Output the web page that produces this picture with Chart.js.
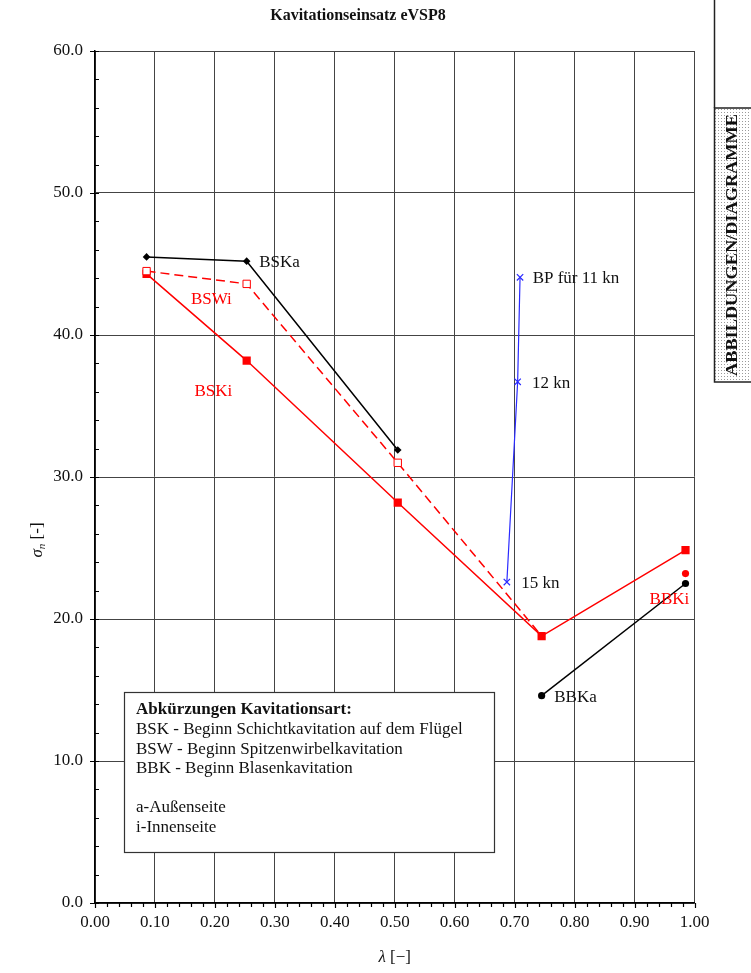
<!DOCTYPE html>
<html lang="de">
<head>
<meta charset="utf-8">
<title>Kavitationseinsatz eVSP8</title>
<script src="https://cdn.jsdelivr.net/npm/chart.js@4.4.1/dist/chart.umd.min.js"></script>
<style>
  html, body { margin: 0; padding: 0; background: #fff; }
  #wrap { width: 751px; height: 973px; }
</style>
</head>
<body>
<div id="wrap"><canvas id="c" width="751" height="973"></canvas></div>
<script>
// Kavitationseinsatz eVSP8: sigma_n over lambda

// BSKa - Beginn Schichtkavitation, Außenseite
const bskaLambda = [0.086, 0.253, 0.505];
const bskaSigma  = [45.5, 45.2, 31.9];

// BSWi - Beginn Spitzenwirbelkavitation, Innenseite
const bswiLambda = [0.086, 0.253, 0.505, 0.745];
const bswiSigma  = [44.5, 43.6, 31.0, 18.8];

// BSKi / BBKi - Schicht- und Blasenkavitation, Innenseite
const bskiLambda = [0.086, 0.253, 0.505, 0.745, 0.985];
const bskiSigma  = [44.3, 38.2, 28.2, 18.8, 24.85];

// BBKi - Einzelpunkt Blasenkavitation, Innenseite
const bbkiLambda = [0.985];
const bbkiSigma  = [23.2];

// BBKa - Beginn Blasenkavitation, Außenseite
const bbkaLambda = [0.745, 0.985];
const bbkaSigma  = [14.6, 22.5];

// Betriebspunkte für 11, 12 und 15 kn
const bpLambda = [0.709, 0.705, 0.687];
const bpSigma  = [44.06, 36.7, 22.6];

// Axis ticks
const xTickStep = 0.1;
const yTickStep = 10;
const xMinorStep = 0.02;
const yMinorStep = 2;

// Curve annotations (text, lambda, sigma, colour)
const noteText   = ['BSKa', 'BSWi', 'BSKi', 'BP für 11 kn', '12 kn', '15 kn', 'BBKi', 'BBKa'];
const noteLambda = [0.274, 0.160, 0.166, 0.730, 0.729, 0.711, 0.925, 0.766];
const noteSigma  = [45.1, 42.5, 36.0, 44.0, 36.6, 22.5, 21.4, 14.5];
const noteColor  = ['#111', '#f00', '#f00', '#111', '#111', '#111', '#f00', '#111'];

// Legend box lines
const legendTitle = 'Abkürzungen Kavitationsart:';
const legendLines = [
  'BSK - Beginn Schichtkavitation auf dem Flügel',
  'BSW - Beginn Spitzenwirbelkavitation',
  'BBK - Beginn Blasenkavitation',
  '',
  'a-Außenseite',
  'i-Innenseite'
];

const chartTitle = 'Kavitationseinsatz eVSP8';
const sideLabel = 'ABBILDUNGEN/DIAGRAMME';

const toPts = (xs, ys) => xs.map((x, i) => ({ x: x, y: ys[i] }));

const SERIF = '"Liberation Serif", "Times New Roman", serif';
const RED = '#ff0000';
const BLUE = '#2a2aff';

const extras = {
  id: 'extras',
  afterDraw(chart) {
    const ctx = chart.ctx;
    const xs = chart.scales.x, ys = chart.scales.y;
    const ca = chart.chartArea;
    ctx.save();

    // title
    ctx.fillStyle = '#111';
    ctx.textBaseline = 'middle';
    ctx.textAlign = 'center';
    ctx.font = 'bold 16px ' + SERIF;
    ctx.fillText(chartTitle, 358, 16);

    // minor / major tick marks
    ctx.strokeStyle = '#000';
    ctx.lineWidth = 1.2;
    ctx.beginPath();
    const nx = Math.round((xs.max - xs.min) / xMinorStep);
    for (let i = 0; i <= nx; i++) {
      const v = xs.min + i * xMinorStep;
      const px = Math.round(xs.getPixelForValue(v)) + 0.5;
      const major = i % Math.round(xTickStep / xMinorStep) === 0;
      ctx.moveTo(px, ca.bottom);
      ctx.lineTo(px, ca.bottom + (major ? 5 : 4));
    }
    const ny = Math.round((ys.max - ys.min) / yMinorStep);
    for (let i = 0; i <= ny; i++) {
      const v = ys.min + i * yMinorStep;
      const py = Math.round(ys.getPixelForValue(v)) + 0.5;
      const major = i % Math.round(yTickStep / yMinorStep) === 0;
      ctx.moveTo(ca.left - (major ? 5 : 0), py);
      ctx.lineTo(ca.left + 4, py);
    }
    ctx.stroke();

    // axis titles
    ctx.fillStyle = '#111';
    const xt1 = 'λ', xt2 = ' [−]';
    ctx.font = 'italic 17px ' + SERIF;
    const w1 = ctx.measureText(xt1).width;
    ctx.font = '17px ' + SERIF;
    const w2 = ctx.measureText(xt2).width;
    const xtx = (ca.left + ca.right) / 2 - (w1 + w2) / 2;
    ctx.textAlign = 'left';
    ctx.font = 'italic 17px ' + SERIF;
    ctx.fillText(xt1, xtx, 958);
    ctx.font = '17px ' + SERIF;
    ctx.fillText(xt2, xtx + w1, 958);

    ctx.save();
    ctx.translate(38, 540);
    ctx.rotate(-Math.PI / 2);
    ctx.font = 'italic 17px ' + SERIF;
    const s1 = ctx.measureText('σ').width;
    ctx.font = 'italic 11px ' + SERIF;
    const s2 = ctx.measureText('n').width;
    ctx.font = '17px ' + SERIF;
    const s3 = ctx.measureText(' [-]').width;
    let sx = -(s1 + s2 + s3) / 2;
    ctx.font = 'italic 17px ' + SERIF;
    ctx.fillText('σ', sx, 0); sx += s1;
    ctx.font = 'italic 11px ' + SERIF;
    ctx.fillText('n', sx, 4); sx += s2;
    ctx.font = '17px ' + SERIF;
    ctx.fillText(' [-]', sx, 0);
    ctx.restore();

    // curve annotations
    ctx.font = '17px ' + SERIF;
    ctx.textAlign = 'left';
    noteText.forEach((t, i) => {
      ctx.fillStyle = noteColor[i];
      ctx.fillText(t, xs.getPixelForValue(noteLambda[i]), ys.getPixelForValue(noteSigma[i]));
    });

    // legend box
    const bx = 124.5, by = 692.5, bw = 370, bh = 160;
    ctx.fillStyle = '#fff';
    ctx.fillRect(bx, by, bw, bh);
    ctx.strokeStyle = '#333';
    ctx.lineWidth = 1.2;
    ctx.strokeRect(bx, by, bw, bh);
    ctx.fillStyle = '#111';
    ctx.font = 'bold 17px ' + SERIF;
    ctx.fillText(legendTitle, 136, 710);
    ctx.font = '17px ' + SERIF;
    legendLines.forEach((t, i) => {
      if (t) ctx.fillText(t, 136, 729.5 + i * 19.6);
    });

    // side tab
    ctx.strokeStyle = '#222';
    ctx.lineWidth = 1.5;
    ctx.beginPath();
    ctx.moveTo(714.5, 0);
    ctx.lineTo(714.5, 108);
    ctx.stroke();
    const pc = document.createElement('canvas');
    pc.width = 3; pc.height = 3;
    const pctx = pc.getContext('2d');
    pctx.fillStyle = '#fff';
    pctx.fillRect(0, 0, 3, 3);
    pctx.fillStyle = '#9a9a9a';
    pctx.fillRect(1, 1, 1, 1);
    ctx.fillStyle = ctx.createPattern(pc, 'repeat');
    ctx.fillRect(714.5, 108, 40, 274);
    ctx.strokeRect(714.5, 108, 40, 274);
    ctx.save();
    ctx.translate(733, 245);
    ctx.rotate(-Math.PI / 2);
    ctx.font = 'bold 16px ' + SERIF;
    const sw = ctx.measureText(sideLabel).width;
    ctx.scale(262 / sw, 1);
    ctx.fillStyle = '#111';
    ctx.textAlign = 'center';
    ctx.fillText(sideLabel, 0, 0);
    ctx.restore();

    ctx.restore();
  }
};

new Chart(document.getElementById('c'), {
  type: 'scatter',
  data: {
    datasets: [
      {
        label: 'BSWi',
        data: toPts(bswiLambda, bswiSigma),
        showLine: true,
        borderColor: RED,
        borderWidth: 1.5,
        borderDash: [9, 5],
        pointStyle: 'rect',
        pointRadius: [5.2, 5.2, 5.2, 0],
        pointBorderWidth: 1,
        pointBorderColor: RED,
        pointBackgroundColor: '#fff'
      },
      {
        label: 'BSKi',
        data: toPts(bskiLambda, bskiSigma),
        showLine: true,
        borderColor: RED,
        borderWidth: 1.5,
        pointStyle: 'rect',
        pointRadius: 5.8,
        pointBorderWidth: 0,
        pointBackgroundColor: RED
      },
      {
        label: 'BSKa',
        data: toPts(bskaLambda, bskaSigma),
        showLine: true,
        borderColor: '#000',
        borderWidth: 1.5,
        pointStyle: 'rectRot',
        pointRadius: 3.8,
        pointBorderWidth: 0,
        pointBackgroundColor: '#000'
      },
      {
        label: 'BBKi',
        data: toPts(bbkiLambda, bbkiSigma),
        showLine: false,
        pointStyle: 'circle',
        pointRadius: 3.6,
        pointBorderWidth: 0,
        pointBackgroundColor: RED
      },
      {
        label: 'BBKa',
        data: toPts(bbkaLambda, bbkaSigma),
        showLine: true,
        borderColor: '#000',
        borderWidth: 1.5,
        pointStyle: 'circle',
        pointRadius: 3.6,
        pointBorderWidth: 0,
        pointBackgroundColor: '#000'
      },
      {
        label: 'BP',
        data: toPts(bpLambda, bpSigma),
        showLine: true,
        borderColor: BLUE,
        borderWidth: 1.2,
        pointStyle: 'crossRot',
        pointRadius: 4.5,
        pointBorderWidth: 1.2,
        pointBorderColor: BLUE
      }
    ]
  },
  options: {
    responsive: false,
    devicePixelRatio: 1,
    animation: false,
    events: [],
    layout: { padding: { top: 51, left: 0, right: 56.5, bottom: 0 } },
    plugins: {
      legend: { display: false },
      tooltip: { enabled: false },
      title: { display: false }
    },
    scales: {
      x: {
        type: 'linear',
        min: 0,
        max: 1,
        afterFit(s) { s.height = 70; },
        ticks: {
          stepSize: xTickStep,
          padding: 9,
          color: '#111',
          font: { family: SERIF, size: 17 },
          callback: v => Number(v).toFixed(2),
          maxRotation: 0
        },
        grid: { color: '#444', lineWidth: 1, drawTicks: false },
        border: { color: '#000', width: 1.5 }
      },
      y: {
        type: 'linear',
        min: 0,
        max: 60,
        afterFit(s) { s.width = 95; },
        ticks: {
          stepSize: yTickStep,
          padding: 12,
          color: '#111',
          font: { family: SERIF, size: 17 },
          callback: v => Number(v).toFixed(1)
        },
        grid: { color: '#444', lineWidth: 1, drawTicks: false },
        border: { color: '#000', width: 1.5 }
      }
    }
  },
  plugins: [extras]
});
</script>
</body>
</html>
